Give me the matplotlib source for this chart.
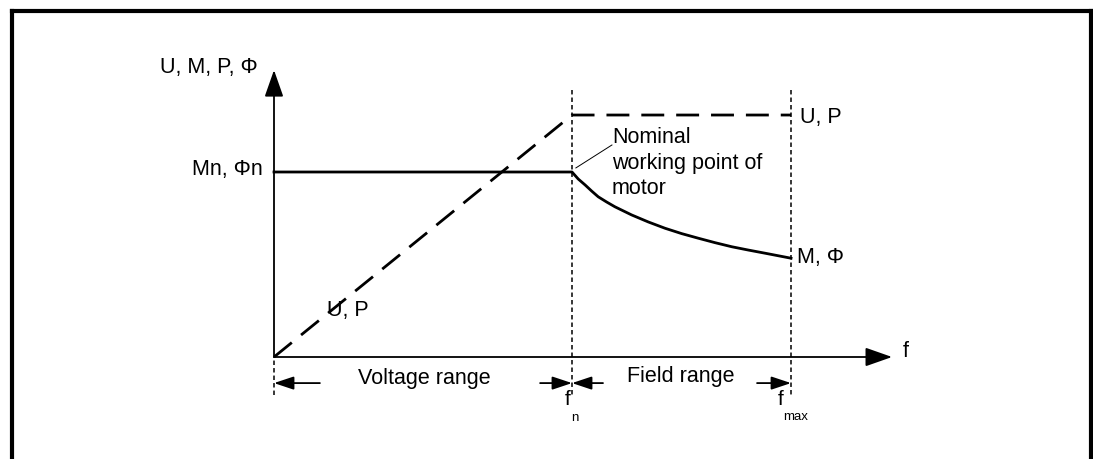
import matplotlib.pyplot as plt

plt.rcParams['font.family'] = ['Liberation Sans', 'DejaVu Sans']
plt.rcParams['lines.scale_dashes'] = False

# normalised frequency (f / fn) and normalised quantities (value / Mn)
f_nominal = 1.0
f_max = 1.735
up_f = [0.0, f_nominal, f_max]
up_val = [0.0, 1.308, 1.308]
m_f = [0.0, 1.0, 1.021, 1.044, 1.066, 1.088, 1.116, 1.144, 1.200, 1.256,
       1.312, 1.368, 1.424, 1.480, 1.536, 1.592, 1.648, 1.735]
m_val = [1.0, 1.0, 0.962, 0.930, 0.897, 0.866, 0.838, 0.812, 0.768, 0.730,
         0.696, 0.667, 0.642, 0.618, 0.596, 0.578, 0.561, 0.534]

y_axis_top = 1.551
x_axis_end = 2.074
guide_top = 1.443
guide_bottom = -0.205
dim_y = -0.141

fig = plt.figure(figsize=(10.93, 4.59), dpi=100)
ax = fig.add_axes([0, 0, 1, 1])
# origin sits at pixel (274, 357); 298 px per fn, 185 px per Mn
ax.set_xlim(-274 / 298, (1093 - 274) / 298)
ax.set_ylim((357 - 459) / 185, 357 / 185)
ax.axis('off')

# outer frame (bottom edge runs off the image)
frame = dict(color='black', lw=3, solid_capstyle='projecting', transform=ax.transAxes)
xl, xr, yt = 12 / 1093, 1091 / 1093, 1 - 11 / 459
ax.plot([xl, xl], [-0.05, yt], **frame)
ax.plot([xl, xr], [yt, yt], **frame)
ax.plot([xr, xr], [yt, -0.05], **frame)

# coordinate axes
axis_head = dict(arrowstyle='-|>,head_length=16.5,head_width=5.8', color='black',
                 lw=1.3, shrinkA=0, shrinkB=0, mutation_scale=1)
ax.annotate('', xy=(0, y_axis_top), xytext=(0, 0), arrowprops=axis_head)
ax.annotate('', xy=(x_axis_end, 0), xytext=(0, 0), arrowprops=axis_head)

# vertical guides at 0, fn and fmax
guide = dict(color='black', lw=1.1, linestyle=(0, (3.2, 2.2)))
ax.plot([0, 0], [guide_bottom, 0], **guide)
ax.plot([f_nominal, f_nominal], [guide_top, guide_bottom], **guide)
ax.plot([f_max, f_max], [guide_top, guide_bottom], **guide)

# characteristic curves
ax.plot(up_f, up_val, color='black', lw=2.0, linestyle=(0, (16.5, 8.6)))
ax.plot(m_f, m_val, color='black', lw=2.0, solid_joinstyle='round')

# range dimension arrows
dim_head = dict(arrowstyle='-|>,head_length=12,head_width=4', color='black',
                lw=1.3, shrinkA=0, shrinkB=0, mutation_scale=1)
for start, tip in [(0.154, 0.0), (0.893, f_nominal), (1.104, f_nominal), (1.621, f_max)]:
    ax.annotate('', xy=(tip, dim_y), xytext=(start, dim_y), arrowprops=dim_head)

fs = 15.5
ax.text(-0.054, 1.535, 'U, M, P, Φ', fontsize=fs, ha='right', va='baseline')
ax.text(-0.037, 0.984, 'Mn, Φn', fontsize=fs, ha='right', va='baseline')
ax.text(f_max + 0.03, 1.265, 'U, P', fontsize=fs, ha='left', va='baseline')
ax.text(f_max + 0.02, 0.508, 'M, Φ', fontsize=fs, ha='left', va='baseline')
ax.text(0.178, 0.222, 'U, P', fontsize=fs, ha='left', va='baseline')
ax.text(2.11, 0.0, 'f', fontsize=fs, ha='left', va='baseline')

# annotation of the nominal point (baseline refers to the last line)
ax.text(1.134, 0.881, 'Nominal\nworking point of\nmotor', fontsize=fs, ha='left',
        va='baseline', linespacing=1.27)
ax.plot([1.013, 1.134], [1.022, 1.146], color='black', lw=0.7)

ax.text(0.503, -0.146, 'Voltage range', fontsize=fs, ha='center', va='baseline')
ax.text(1.365, -0.135, 'Field range', fontsize=fs, ha='center', va='baseline')

# frequency marks with subscripts
ax.text(0.975, -0.259, 'f', fontsize=15, ha='left', va='baseline')
ax.text(0.997, -0.346, 'n', fontsize=9.5, ha='left', va='baseline')
ax.text(1.689, -0.259, 'f', fontsize=15, ha='left', va='baseline')
ax.text(1.708, -0.340, 'max', fontsize=9.5, ha='left', va='baseline')

fig.savefig('out.png', dpi=100)
